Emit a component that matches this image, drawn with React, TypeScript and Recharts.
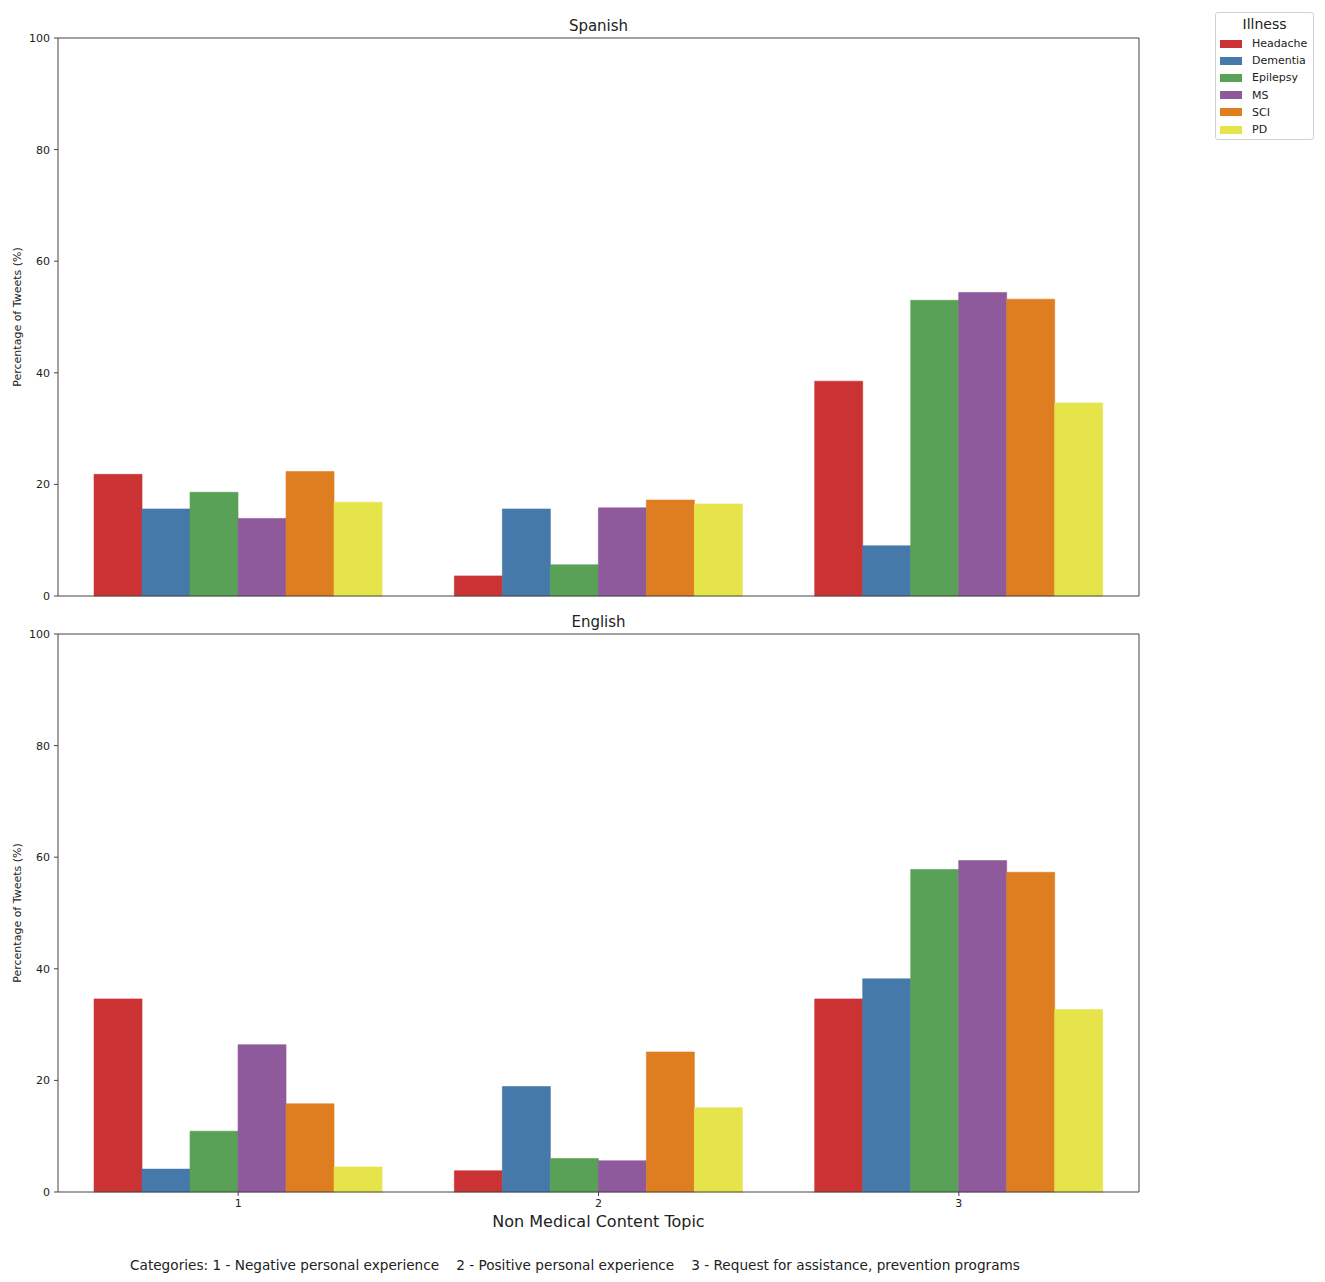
import React from 'react';
import { BarChart, Bar, XAxis, YAxis } from 'recharts';

const categories = ['1', '2', '3'];
const illnesses = ['Headache', 'Dementia', 'Epilepsy', 'MS', 'SCI', 'PD'];
const colors = ['#CB3234', '#4479A9', '#59A156', '#8F5A9B', '#DF7E20', '#E6E44B'];
const yTicks = [0, 20, 40, 60, 80, 100];

// Spanish
const headacheES = [21.8, 3.6, 38.5];
const dementiaES = [15.6, 15.6, 9.0];
const epilepsyES = [18.6, 5.6, 53.0];
const msES = [13.9, 15.8, 54.4];
const sciES = [22.3, 17.2, 53.2];
const pdES = [16.8, 16.5, 34.6];

// English
const headacheEN = [34.6, 3.8, 34.6];
const dementiaEN = [4.1, 18.9, 38.2];
const epilepsyEN = [10.9, 6.0, 57.8];
const msEN = [26.4, 5.6, 59.4];
const sciEN = [15.8, 25.1, 57.3];
const pdEN = [4.5, 15.1, 32.7];

const captionParts = [
  'Categories: 1 - Negative personal experience',
  '2 - Positive personal experience',
  '3 - Request for assistance, prevention programs',
];

const build = (series: number[][]) =>
  categories.map((c, i) => {
    const row: Record<string, string | number> = { cat: c };
    illnesses.forEach((name, k) => {
      row[name] = series[k][i];
    });
    return row;
  });

const dataES = build([headacheES, dementiaES, epilepsyES, msES, sciES, pdES]);
const dataEN = build([headacheEN, dementiaEN, epilepsyEN, msEN, sciEN, pdEN]);

const FONT = '"DejaVu Sans", sans-serif';
const SPINE = '#444';

function Panel({ data, showTickLabels, height }: { data: any[]; showTickLabels: boolean; height: number }) {
  return (
    <BarChart
      width={1141}
      height={height}
      data={data}
      margin={{ top: 29, right: 9, left: 0, bottom: 0 }}
      barCategoryGap="10%"
      barGap={0}
      style={{ fontFamily: FONT }}
    >
      <XAxis
        dataKey="cat"
        xAxisId="main"
        height={showTickLabels ? 30 : 10}
        tick={showTickLabels ? { fontSize: 11, fill: '#222', fontFamily: FONT } : false}
        tickLine={{ stroke: SPINE }}
        axisLine={{ stroke: SPINE }}
        tickSize={4}
        tickMargin={3}
        interval={0}
      />
      <XAxis
        dataKey="cat"
        xAxisId="top"
        orientation="top"
        height={1}
        tick={false}
        tickLine={false}
        axisLine={{ stroke: SPINE }}
      />
      <YAxis
        yAxisId="left"
        width={50}
        domain={[0, 100]}
        ticks={yTicks}
        tick={{ fontSize: 11, fill: '#222', fontFamily: FONT }}
        tickLine={{ stroke: SPINE }}
        axisLine={{ stroke: SPINE }}
        tickSize={4}
        tickMargin={4}
        label={{
          value: 'Percentage of Tweets (%)',
          angle: -90,
          position: 'insideLeft',
          offset: 9,
          style: { textAnchor: 'middle', fontSize: 11, fill: '#222', fontFamily: FONT },
        }}
      />
      <YAxis
        yAxisId="right"
        orientation="right"
        width={1}
        domain={[0, 100]}
        tick={false}
        tickLine={false}
        axisLine={{ stroke: SPINE }}
      />
      {illnesses.map((name, k) => (
        <Bar
          key={name}
          dataKey={name}
          xAxisId="main"
          yAxisId="left"
          fill={colors[k]}
          stroke={colors[k]}
          strokeWidth={0.6}
          isAnimationActive={false}
        />
      ))}
    </BarChart>
  );
}

export default function App() {
  return (
    <div style={{ position: 'relative', width: 1309, height: 1266, fontFamily: FONT, color: '#222', background: '#fff' }}>
      <div style={{ position: 'absolute', left: 0, top: 0 }}>
        <Panel data={dataES} showTickLabels={false} height={598} />
      </div>
      <div style={{ position: 'absolute', left: 0, top: 596 }}>
        <Panel data={dataEN} showTickLabels={true} height={618} />
      </div>
      <div style={{ position: 'absolute', left: 50, top: 9, width: 1081, textAlign: 'center', fontSize: 15, lineHeight: '18px' }}>
        Spanish
      </div>
      <div style={{ position: 'absolute', left: 50, top: 605, width: 1081, textAlign: 'center', fontSize: 15, lineHeight: '18px' }}>
        English
      </div>
      <div style={{ position: 'absolute', left: 50, top: 1204, width: 1081, textAlign: 'center', fontSize: 16, lineHeight: '20px' }}>
        Non Medical Content Topic
      </div>
      <div style={{ position: 'absolute', left: 122, top: 1248, fontSize: 13.65, lineHeight: '18px', whiteSpace: 'nowrap' }}>
        {captionParts.map((p, i) => (
          <span key={i} style={{ marginLeft: i === 0 ? 0 : 17 }}>{p}</span>
        ))}
      </div>
      <div
        style={{
          position: 'absolute',
          left: 1207,
          top: 4,
          width: 97,
          height: 126,
          border: '1px solid #d0d0d0',
          borderRadius: 3,
          background: '#fff',
          boxSizing: 'content-box',
        }}
      >
        <div style={{ textAlign: 'center', fontSize: 14, lineHeight: '16px', marginTop: 3 }}>Illness</div>
        <div style={{ marginTop: 3 }}>
          {illnesses.map((name, k) => (
            <div key={name} style={{ display: 'flex', alignItems: 'center', height: 17.2 }}>
              <div style={{ width: 22, height: 8, marginLeft: 4, background: colors[k] }} />
              <div style={{ marginLeft: 10, fontSize: 11 }}>{name}</div>
            </div>
          ))}
        </div>
      </div>
    </div>
  );
}
